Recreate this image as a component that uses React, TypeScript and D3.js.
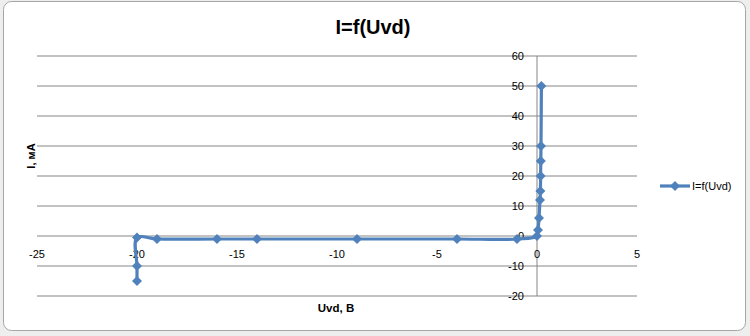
import React from "react";
import * as d3 from "d3";

const uValues = [-20, -20, -20, -19, -16, -14, -9, -4, -1, 0, 0.05, 0.1, 0.15, 0.17, 0.18, 0.19, 0.2, 0.22];
const iValues = [-15, -10, -0.5, -1, -1, -1, -1, -1, -1, 0, 2, 6, 12, 15, 20, 25, 30, 50];
const xTicks = [-25, -20, -15, -10, -5, 0, 5];
const yTicks = [-20, -10, 0, 10, 20, 30, 40, 50, 60];
const seriesName = "I=f(Uvd)";
const title = "I=f(Uvd)";
const xLabel = "Uvd, B";
const yLabel = "I, мА";

const W = 750, H = 336;
const color = "#4f81bd";
const font = "'Liberation Sans', Arial, sans-serif";

export default function App() {
  const x = d3.scaleLinear().domain([-25, 5]).range([37, 637]);
  const y = d3.scaleLinear().domain([-20, 60]).range([296, 56]);
  const pts = uValues.map((u, k) => [u, iValues[k]] as [number, number]);
  const line = d3.line<[number, number]>().x(d => x(d[0])).y(d => y(d[1])).curve(d3.curveCatmullRom.alpha(0.5));
  const diamond = (cx: number, cy: number, r: number) => `M${cx},${cy - r}L${cx + r},${cy}L${cx},${cy + r}L${cx - r},${cy}Z`;
  return (
    <svg width={W} height={H} style={{ position: "absolute", left: 0, top: 0 }}>
      <rect x={0} y={0} width={W} height={H} fill="#eeeeee" />
      <rect x={3.5} y={1.5} width={742} height={329} rx={8} fill="#ffffff" stroke="#a6a6a6" />
      {yTicks.map(t => (
        <line key={"g" + t} x1={x(-25)} x2={x(5)} y1={y(t)} y2={y(t)} stroke="#868686" strokeWidth={1} />
      ))}
      <line x1={x(0)} x2={x(0)} y1={y(60)} y2={y(-20)} stroke="#868686" strokeWidth={1} />
      {yTicks.map(t => (
        <text key={"y" + t} x={x(0) - 13} y={y(t) + 4} textAnchor="end" fontFamily={font} fontSize={11} fill="#000">{t}</text>
      ))}
      {xTicks.map(t => (
        <text key={"x" + t} x={x(t)} y={y(0) + 22} textAnchor="middle" fontFamily={font} fontSize={11} fill="#000">{t}</text>
      ))}
      <path d={line(pts) || ""} fill="none" stroke={color} strokeWidth={3.2} strokeLinejoin="round" />
      {pts.map((p, k) => (
        <path key={"m" + k} d={diamond(x(p[0]), y(p[1]), 5)} fill={color} />
      ))}
      <text x={373} y={34} textAnchor="middle" fontFamily={font} fontWeight="bold" fontSize={20} fill="#000">{title}</text>
      <text x={336} y={312} textAnchor="middle" fontFamily={font} fontWeight="bold" fontSize={11.5} fill="#000">{xLabel}</text>
      <text transform="translate(35,156) rotate(-90)" textAnchor="middle" fontFamily={font} fontWeight="bold" fontSize={11} fill="#000">{yLabel}</text>
      <line x1={660} x2={690} y1={186} y2={186} stroke={color} strokeWidth={3.2} />
      <path d={diamond(675, 186, 5)} fill={color} />
      <text x={692} y={190} fontFamily={font} fontSize={11} fill="#000">{seriesName}</text>
    </svg>
  );
}
